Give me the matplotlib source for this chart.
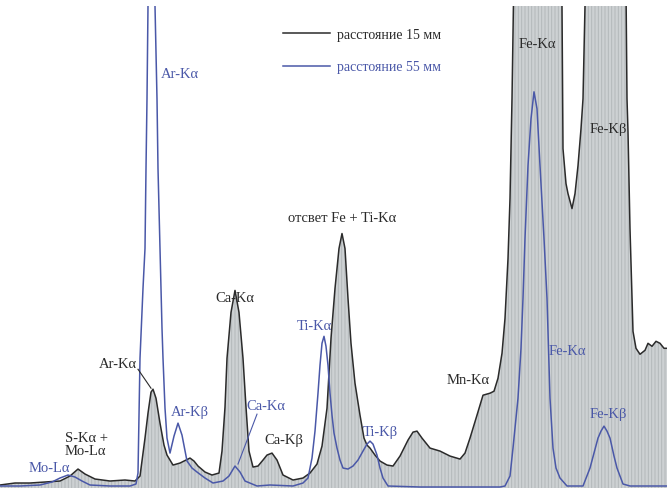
import matplotlib
matplotlib.use("Agg")
import matplotlib.pyplot as plt

plt.rcParams['font.family'] = ['Liberation Serif', 'DejaVu Serif']
plt.rcParams['hatch.linewidth'] = 0.7

# spectrum at 15 mm (black, filled) - channel vs counts
ch_15 = [0, 15, 30, 45, 60, 70, 78, 85, 95, 110, 125, 135, 140, 145, 148, 151, 153,
         156, 160, 164, 167, 173, 180, 186, 190, 194, 198, 205, 212, 219, 222, 225,
         227, 231, 235, 239, 243, 246, 249, 253, 258, 263, 267, 272, 277, 283, 293,
         303, 310, 317, 322, 327, 331, 335, 339, 342, 345, 348, 351, 355, 360, 364,
         367, 370, 375, 380, 387, 393, 400, 408, 413, 417, 422, 430, 440, 450, 460,
         465, 470, 477, 483, 490, 494, 498, 502, 505, 508, 510, 512, 514, 525, 540,
         555, 560, 562, 563, 566, 568, 572, 575, 578, 581, 583, 585, 588, 605, 622,
         626, 627, 628, 630, 633, 636, 640, 645, 648, 652, 656, 660, 664, 667]
cnt_15 = [2, 4, 4, 5, 6, 11, 18, 13, 8, 6, 7, 6, 11, 49, 74, 95, 98,
          89, 64, 42, 32, 22, 24, 27, 29, 26, 21, 15, 12, 14, 36, 80,
          129, 175, 197, 175, 129, 80, 36, 20, 21, 27, 32, 34, 27, 12, 7,
          9, 14, 23, 41, 79, 149, 199, 239, 254, 239, 189, 144, 104, 72, 49,
          42, 39, 32, 26, 22, 21, 31, 47, 55, 56, 49, 39, 36, 31, 28,
          34, 49, 72, 92, 94, 96, 109, 134, 169, 229, 289, 389, 520, 650, 700,
          600, 520, 482, 339, 304, 294, 279, 294, 322, 359, 389, 482, 560, 650, 580,
          500, 389, 356, 259, 156, 139, 133, 137, 144, 141, 146, 144, 139, 139]

# spectrum at 55 mm (blue)
ch_55 = [0, 20, 40, 52, 60, 68, 75, 82, 90, 110, 130, 136, 138, 140, 143, 145, 146,
         147, 148, 151, 155, 157, 158, 160, 162, 163, 165, 167, 170, 174, 178, 182,
         187, 192, 197, 205, 213, 223, 229, 235, 240, 245, 257, 270, 293, 303, 308,
         312, 315, 318, 320, 322, 324, 326, 328, 330, 332, 334, 337, 340, 343, 348,
         353, 358, 363, 367, 370, 373, 377, 380, 383, 388, 420, 460, 500, 505, 510,
         513, 516, 518, 521, 523, 525, 528, 531, 534, 537, 540, 544, 547, 550, 553,
         556, 560, 567, 583, 590, 594, 598, 601, 604, 607, 610, 614, 617, 623, 630, 667]
cnt_55 = [1, 1, 2, 5, 9, 12, 10, 6, 2, 1, 1, 3, 14, 129, 199, 239, 319,
          389, 482, 640, 482, 389, 319, 239, 159, 129, 79, 49, 34, 51, 64, 52,
          26, 19, 15, 9, 4, 6, 11, 21, 15, 6, 1, 2, 1, 4, 9,
          29, 56, 94, 122, 144, 151, 141, 122, 94, 72, 54, 39, 27, 19, 18,
          21, 27, 36, 43, 46, 43, 32, 19, 9, 1, 0, 0, 0, 1, 11,
          39, 69, 89, 139, 189, 249, 322, 369, 396, 379, 322, 249, 189, 89, 39,
          19, 9, 1, 1, 19, 34, 49, 56, 61, 56, 49, 31, 19, 3, 1, 1]

black = '#2b2b2b'
blue = '#4a58a8'

fig = plt.figure(figsize=(6.67, 4.89), dpi=100)
ax = fig.add_axes([0, 0, 1, 482 / 489])

ax.fill_between(ch_15, cnt_15, -5, facecolor='#cdd1d3', edgecolor='#b3b8ba',
                hatch='|||||', linewidth=0)
ax.plot(ch_15, cnt_15, color=black, lw=1.1, label='расстояние 15 мм')
ax.plot(ch_55, cnt_55, color=blue, lw=1.1, label='расстояние 55 мм')

ax.set_xlim(0, 667)
ax.set_ylim(-1, 482)
ax.axis('off')

fs = 10.5
# black peak labels
ax.text(118, 124, 'Ar-Kα', color=black, fontsize=fs, ha='center', va='center')
ax.plot([138, 151], [118, 99], color=black, lw=0.8)
ax.text(235, 190, 'Ca-Kα', color=black, fontsize=fs, ha='center', va='center')
ax.text(284, 48, 'Ca-Kβ', color=black, fontsize=fs, ha='center', va='center')
ax.text(342, 270, 'отсвет Fe + Ti-Kα', color=black, fontsize=fs, ha='center', va='center')
ax.text(468, 108, 'Mn-Kα', color=black, fontsize=fs, ha='center', va='center')
ax.text(537, 444, 'Fe-Kα', color=black, fontsize=fs, ha='center', va='center')
ax.text(608, 359, 'Fe-Kβ', color=black, fontsize=fs, ha='center', va='center')
ax.text(65, 43, 'S-Kα +\nMo-Lα', color=black, fontsize=fs, ha='left', va='center',
        linespacing=1.0)

# blue peak labels
ax.text(180, 414, 'Ar-Kα', color=blue, fontsize=fs, ha='center', va='center')
ax.text(190, 76, 'Ar-Kβ', color=blue, fontsize=fs, ha='center', va='center')
ax.text(266, 82, 'Ca-Kα', color=blue, fontsize=fs, ha='center', va='center')
ax.plot([257, 238], [73, 23], color=blue, lw=0.8)
ax.text(314, 162, 'Ti-Kα', color=blue, fontsize=fs, ha='center', va='center')
ax.text(380, 56, 'Ti-Kβ', color=blue, fontsize=fs, ha='center', va='center')
ax.text(567, 137, 'Fe-Kα', color=blue, fontsize=fs, ha='center', va='center')
ax.text(608, 74, 'Fe-Kβ', color=blue, fontsize=fs, ha='center', va='center')
ax.text(49, 20, 'Mo-Lα', color=blue, fontsize=fs, ha='center', va='center')

leg = ax.legend(loc='upper left', bbox_to_anchor=(283 / 667, 1 - 22 / 482),
                frameon=False, fontsize=10, handlelength=3.4, handletextpad=0.5,
                labelspacing=1.4, borderpad=0, borderaxespad=0)
for t, c in zip(leg.get_texts(), [black, blue]):
    t.set_color(c)

fig.savefig('out.png', dpi=100)
